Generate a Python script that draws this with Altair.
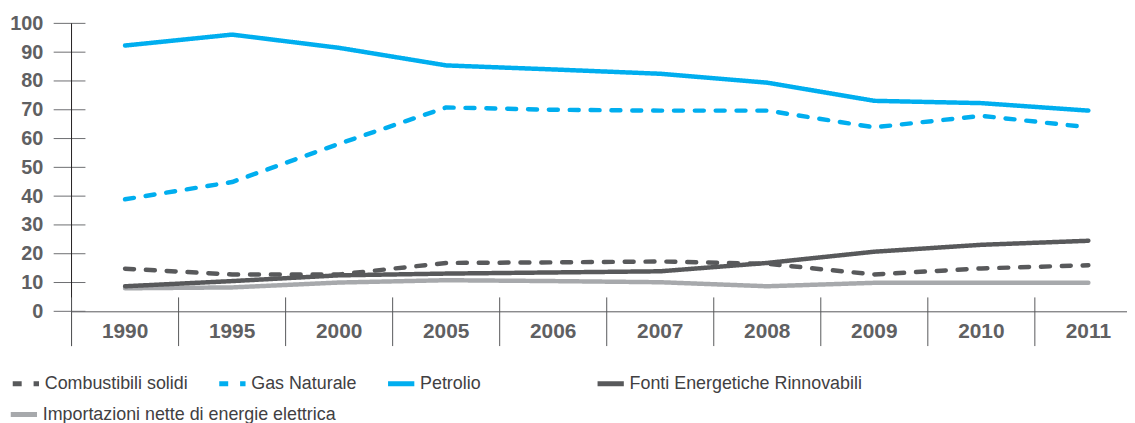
import altair as alt
import pandas as pd

anni = ['1990', '1995', '2000', '2005', '2006', '2007', '2008', '2009', '2010', '2011']
serie = ['Combustibili solidi', 'Gas Naturale', 'Petrolio',
         'Fonti Energetiche Rinnovabili', 'Importazioni nette di energie elettrica']

combustibili = [14.8, 12.8, 12.8, 16.8, 17.0, 17.3, 16.5, 12.8, 14.9, 16.0]
gas = [38.9, 44.9, 58.2, 70.8, 70.0, 69.7, 69.7, 63.9, 67.9, 63.9]
petrolio = [92.3, 96.1, 91.5, 85.4, 84.0, 82.5, 79.4, 73.1, 72.3, 69.7]
rinnovabili = [8.7, 10.5, 12.5, 13.1, 13.5, 13.9, 16.8, 20.7, 23.1, 24.5]
importazioni = [8.0, 8.3, 10.0, 10.8, 10.5, 10.1, 8.7, 9.9, 9.9, 9.9]
tick_valori = [0, 10, 20, 30, 40, 50, 60, 70, 80, 90, 100]

colori = {serie[0]: '#58595b', serie[1]: '#00aeef', serie[2]: '#00aeef',
          serie[3]: '#58595b', serie[4]: '#a7a9ac'}
tratti = {serie[0]: [9, 12], serie[1]: [9, 12], serie[2]: [1, 0],
          serie[3]: [1, 0], serie[4]: [1, 0]}

valori = {serie[0]: combustibili, serie[1]: gas, serie[2]: petrolio,
          serie[3]: rinnovabili, serie[4]: importazioni}
rows = []
for s in serie:
    for a, v in zip(anni, valori[s]):
        rows.append({'anno': a, 'valore': v, 'serie': s})
df = pd.DataFrame(rows)

W, H = 1063, 290
X_RANGE = 1078  # the plot runs past the right edge of the picture
FONT = 'Liberation Sans'
LABEL_COL = '#5f6062'

x_axis = alt.Axis(labelAngle=0, ticks=False, tickSize=0, domain=True, bandPosition=0.5,
                  domainColor='#58595b', domainWidth=1, grid=False, labelAlign='center',
                  labelFont=FONT, labelFontSize=21, labelFontWeight='bold',
                  labelColor=LABEL_COL, labelPadding=20, labelBaseline='middle')
x_scale = alt.Scale(type='band', paddingInner=0, paddingOuter=0, range=[0, X_RANGE])
y_axis = alt.Axis(values=tick_valori, ticks=False, tickSize=0, domain=False,
                  grid=False, labelOverlap=False, labelFont=FONT, labelFontSize=20,
                  labelFontWeight='bold', labelColor=LABEL_COL, labelPadding=29)
y_scale = alt.Scale(domain=[0, 100], nice=False)

x_enc = alt.X('anno:O', sort=anni, title=None, scale=x_scale, axis=x_axis)
y_enc = alt.Y('valore:Q', title=None, scale=y_scale, axis=y_axis)


def legenda(x, y):
    return alt.Legend(
        title=None, orient='none', legendX=x, legendY=y, direction='horizontal',
        symbolType='stroke', symbolSize=700, symbolStrokeWidth=5,
        labelFont=FONT, labelFontSize=18, labelColor='#414042',
        labelOffset=3, columnPadding=20, labelLimit=0,
    )


def gruppo(nomi, lx, ly):
    dom = nomi
    return alt.Chart(df).transform_filter(
        alt.FieldOneOfPredicate(field='serie', oneOf=nomi)
    ).mark_line(strokeWidth=4.5, strokeCap='round', strokeJoin='round').encode(
        x=x_enc,
        y=y_enc,
        color=alt.Color('serie:N', scale=alt.Scale(domain=dom, range=[colori[n] for n in dom]),
                        legend=legenda(lx, ly)),
        strokeDash=alt.StrokeDash('serie:N', scale=alt.Scale(domain=dom, range=[tratti[n] for n in dom]),
                                  legend=legenda(lx, ly)),
    )


riga1 = 347
riga2 = 378
linee_imp = gruppo([serie[4]], -64, riga2)
linee_rin = gruppo([serie[3]], 527, riga1)
linee_main = gruppo(serie[:3], -62, riga1)

divisori = alt.Chart(pd.DataFrame({'anno': anni})).mark_rule(color='#58595b', strokeWidth=1).encode(
    x=alt.X('anno:O', sort=anni, title=None, scale=x_scale, axis=x_axis, bandPosition=0),
    y=alt.value(H - 14),
    y2=alt.value(H + 35),
)

tacche = alt.Chart(pd.DataFrame({'valore': tick_valori})).mark_rule(color='#6d6e71', strokeWidth=1).encode(
    y=y_enc,
    x=alt.value(-18),
    x2=alt.value(14),
)

asse_y = alt.Chart(pd.DataFrame({'valore': [0]})).mark_rule(color='#231f20', strokeWidth=1).encode(
    x=alt.value(0),
    y=alt.value(0),
    y2=alt.value(H + 35),
)

chart = alt.layer(linee_imp, linee_rin, linee_main, tacche, asse_y, divisori).resolve_scale(
    color='independent', strokeDash='independent'
).properties(
    width=W, height=H, autosize='none',
    padding={'left': 64, 'top': 14, 'right': 0, 'bottom': 111},
).configure_view(stroke=None)

chart.save('out.html', embed_options={'renderer': 'svg', 'actions': False})
